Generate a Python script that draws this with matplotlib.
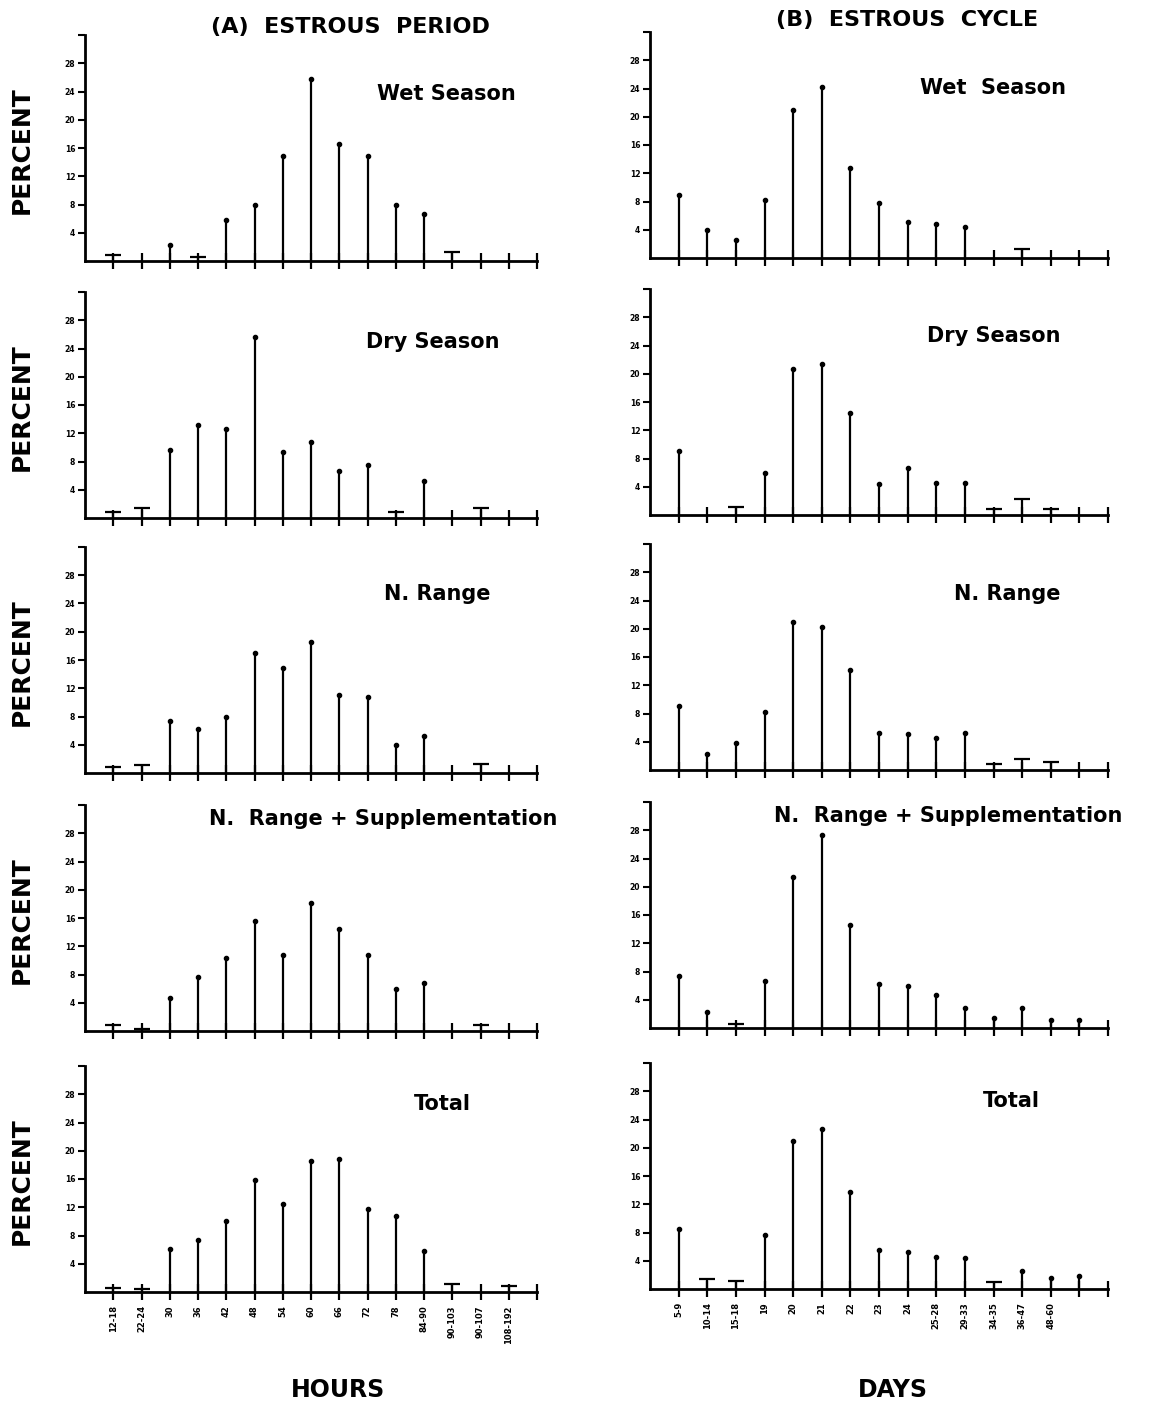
import numpy as np
import matplotlib.pyplot as plt

plt.rcParams['font.family'] = 'DejaVu Sans'
plt.rcParams['font.weight'] = 'bold'

# x classes
hours = ['12-18', '22-24', '30', '36', '42', '48', '54', '60', '66', '72',
         '78', '84-90', '90-103', '90-107', '108-192']
days = ['5-9', '10-14', '15-18', '19', '20', '21', '22', '23', '24', '25-28',
        '29-33', '34-35', '36-47', '48-60', '']

names_a = ['Wet Season', 'Dry Season', 'N. Range',
           'N.  Range + Supplementation', 'Total']
names_b = ['Wet  Season', 'Dry Season', 'N. Range',
           'N.  Range + Supplementation', 'Total']

# (A) estrous period - percent per class of hours
period_wet = [0.9, 0, 2.3, 0.6, 5.8, 7.9, 14.9, 25.7, 16.5, 14.8, 7.9, 6.6, 1.3, 0, 0]
period_dry = [0.9, 1.4, 9.6, 13.1, 12.6, 25.6, 9.4, 10.7, 6.6, 7.5, 0.9, 5.2, 0, 1.4, 0]
period_nrange = [0.8, 1.2, 7.3, 6.3, 8.0, 17.0, 14.8, 18.5, 11.1, 10.8, 3.9, 5.3, 0, 1.25, 0]
period_supp = [0.85, 0.3, 4.7, 7.7, 10.4, 15.6, 10.7, 18.1, 14.4, 10.7, 5.9, 6.8, 0, 0.85, 0]
period_total = [0.5, 0.4, 6.1, 7.3, 10.1, 15.9, 12.4, 18.6, 18.9, 11.8, 10.7, 5.8, 1.15, 0, 0.8]

# (B) estrous cycle - percent per class of days
cycle_wet = [8.9, 3.9, 2.5, 8.2, 21.0, 24.2, 12.8, 7.8, 5.1, 4.8, 4.4, 0, 1.3, 0, 0]
cycle_dry = [9.0, 0, 1.2, 6.0, 20.7, 21.4, 14.5, 4.4, 6.7, 4.6, 4.6, 0.9, 2.2, 0.9, 0]
cycle_nrange = [9.0, 2.3, 3.8, 8.2, 21.0, 20.2, 14.2, 5.2, 5.1, 4.5, 5.3, 0.9, 1.6, 1.1, 0]
cycle_supp = [7.4, 2.2, 0.5, 6.7, 21.4, 27.3, 14.6, 6.3, 5.9, 4.7, 2.8, 1.4, 2.8, 1.1, 1.2]
cycle_total = [8.5, 1.4, 1.2, 7.7, 20.9, 22.6, 13.8, 5.5, 5.3, 4.6, 4.4, 1.0, 2.5, 1.6, 1.9]

# classes drawn with a flat "T" cap instead of a dot
period_caps = [[0, 3, 12], [0, 1, 10, 13], [0, 1, 13], [0, 1, 13], [0, 1, 12, 14]]
cycle_caps = [[12], [2, 11, 12, 13], [11, 12, 13], [2], [1, 2, 11]]

period = [period_wet, period_dry, period_nrange, period_supp, period_total]
cycle = [cycle_wet, cycle_dry, cycle_nrange, cycle_supp, cycle_total]

fig = plt.figure(figsize=(11.55, 14.03), dpi=100)
W, H = 1155, 1403
row_zero = [261, 518, 773, 1031, 1292]
ax_h = 226

title_a = [(0.80, 0.74), (0.77, 0.78), (0.78, 0.79), (0.66, 0.94), (0.79, 0.83)]
title_b = [(0.75, 0.75), (0.75, 0.79), (0.78, 0.78), (0.65, 0.94), (0.79, 0.83)]


def draw(ax, vals, caps, labels, last):
    x = np.arange(1, len(vals) + 1)
    v = np.array(vals, dtype=float)
    caps = np.array(caps, dtype=int)
    pos = v > 0
    ax.vlines(x[pos], 0, v[pos], color='k', lw=1.6, clip_on=False)
    dots = np.array([i for i in range(len(v)) if v[i] > 0 and i not in caps], dtype=int)
    ax.plot(x[dots], v[dots], 'o', color='k', ms=3, clip_on=False)
    ax.plot(x[caps], v[caps], '_', color='k', ms=11, mew=1.6, clip_on=False)
    ax.set_xlim(0, 16)
    ax.set_ylim(0, 32)
    ax.set_xticks(np.arange(1, 17))
    ax.set_yticks([4, 8, 12, 16, 20, 24, 28, 32])
    ax.set_yticklabels(['4', '8', '12', '16', '20', '24', '28', ''])
    for s in ['top', 'right']:
        ax.spines[s].set_visible(False)
    for s in ['left', 'bottom']:
        ax.spines[s].set_linewidth(2)
    ax.tick_params(axis='x', direction='inout', length=11, width=1.6)
    ax.tick_params(axis='y', direction='out', length=5, width=1.5,
                   labelsize=5.5, pad=2)
    if last:
        ax.set_xticklabels(list(labels) + [''], rotation=90, fontsize=6,
                           fontweight='bold')
        ax.tick_params(axis='x', pad=4)
    else:
        ax.tick_params(axis='x', labelbottom=False)


for r in range(5):
    y0 = row_zero[r]
    axa = fig.add_axes([85 / W, 1 - y0 / H, 452 / W, ax_h / H])
    draw(axa, period[r], period_caps[r], hours, r == 4)
    axa.text(title_a[r][0], title_a[r][1], names_a[r], transform=axa.transAxes,
             ha='center', va='center', fontsize=15, fontweight='bold')
    axa.text(-0.14, 0.49, 'PERCENT', transform=axa.transAxes, rotation=90,
             ha='center', va='center', fontsize=18, fontweight='bold')

    axb = fig.add_axes([650 / W, 1 - (y0 - 3) / H, 458 / W, ax_h / H])
    draw(axb, cycle[r], cycle_caps[r], days, r == 4)
    axb.text(title_b[r][0], title_b[r][1], names_b[r], transform=axb.transAxes,
             ha='center', va='center', fontsize=15, fontweight='bold')

fig.text(350 / W, 1 - 27 / H, '(A)  ESTROUS  PERIOD', ha='center', va='center',
         fontsize=16, fontweight='bold')
fig.text(907 / W, 1 - 20 / H, '(B)  ESTROUS  CYCLE', ha='center', va='center',
         fontsize=16, fontweight='bold')
fig.text(338 / W, 1 - 1390 / H, 'HOURS', ha='center', va='center',
         fontsize=17, fontweight='bold')
fig.text(893 / W, 1 - 1390 / H, 'DAYS', ha='center', va='center',
         fontsize=17, fontweight='bold')

fig.savefig('out.png', dpi=100, facecolor='white')
